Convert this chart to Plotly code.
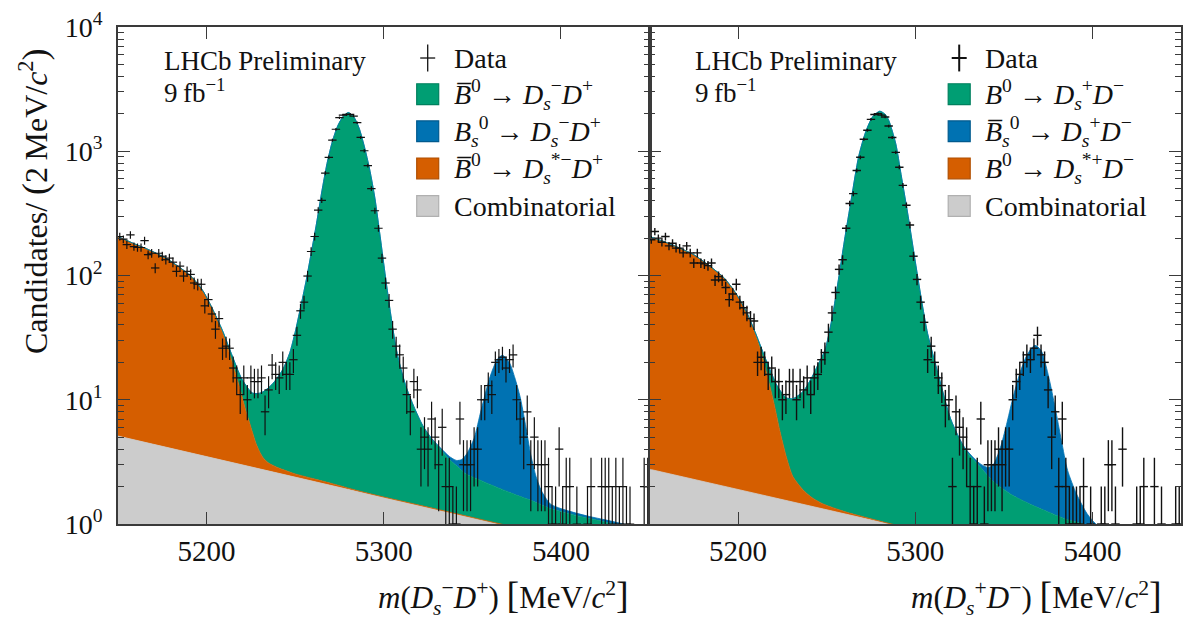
import numpy as np
import plotly.graph_objects as go

# ---------------- data ----------------
BIN_CENTERS = list(range(5151, 5450, 2))  # 2 MeV bins

LEFT_COUNTS = [
    206, 196, 177, 212, 171, 168, 168, 191, 147, 151,
    115, 151, 143, 134, 138, 128, 108, 119, 99, 108,
    102, 87, 85, 85, 57, 64, 49, 37, 45, 26,
    27, 26, 18, 15, 11, 15, 10, 15, 14, 14,
    15, 8, 12, 19, 16, 15, 20, 16, 16, 21,
    33, 52, 61, 99, 156, 206, 336, 403, 667, 894,
    1228, 1503, 1863, 1953, 1978, 1978, 1918, 1698, 1291, 1009,
    766, 500, 332, 240, 138, 87, 63, 37, 27, 23,
    18, 11, 8, 14, 12, 4, 5, 4, 7, 5,
    3, 6, 2, 2, 1, 1, 7, 3, 3, 3,
    4, 4, 10, 10, 13, 11, 20, 21, 22, 18,
    21, 23, 10, 7, 5, 8, 3, 5, 3, 3,
    3, 2, 1, 1, 4, 1, 2, 2, 0, 1,
    0, 0, 1, 2, 0, 0, 2, 2, 2, 1,
    2, 1, 2, 1, 1, 0, 0, 0, 2, 2,
]
RIGHT_COUNTS = [
    194, 226, 200, 185, 206, 173, 182, 166, 166, 152,
    173, 152, 126, 152, 126, 124, 120, 126, 92, 98,
    92, 80, 64, 71, 85, 61, 55, 50, 45, 43,
    20, 22, 20, 16, 18, 14, 14, 10, 11, 14,
    14, 10, 14, 12, 15, 11, 15, 16, 21, 24,
    35, 50, 73, 112, 134, 240, 380, 456, 700, 894,
    1250, 1476, 1806, 1978, 2004, 1953, 1884, 1596, 1291, 980,
    744, 531, 368, 255, 143, 93, 61, 42, 21, 27,
    20, 15, 13, 9, 10, 2, 8, 6, 5, 4,
    2, 1, 2, 7, 1, 3, 3, 3, 4, 3,
    4, 4, 10, 14, 16, 20, 23, 21, 26, 33,
    23, 20, 12, 5, 8, 2, 7, 2, 1, 1,
    1, 1, 2, 0, 1, 0, 0, 1, 1, 3,
    3, 1, 0, 4, 0, 0, 0, 1, 1, 2,
    0, 0, 2, 0, 1, 0, 0, 0, 1, 1,
]
assert len(LEFT_COUNTS) == len(BIN_CENTERS) == len(RIGHT_COUNTS)

# --- fit components (stacked boundaries) ---
# left panel
L_GRAY_X = [5150, 5450]
L_GRAY_Y = [5.1, 0.52]
L_ORANGE_X = [5150, 5158, 5167, 5177, 5186, 5192, 5198, 5203, 5209, 5214, 5218, 5220, 5222,
              5224, 5226, 5228, 5230, 5232, 5235, 5240, 5245, 5250, 5260, 5270, 5285, 5300,
              5320, 5350, 5450]
L_ORANGE_Y = [206, 183, 162, 138, 113, 96, 75, 55, 35, 21, 13.5, 10.6, 8.3,
              6.7, 5.4, 4.4, 3.8, 3.4, 3.1, 2.85, 2.68, 2.53, 2.32, 2.13, 1.86, 1.65,
              1.42, 1.13, 0.53]
L_CORE_X = [5150, 5158, 5167, 5177, 5186, 5192, 5198, 5203, 5209, 5214, 5220, 5226, 5231, 5237,
            5243, 5247, 5250, 5253, 5256, 5259, 5262, 5265, 5268, 5271, 5274, 5277, 5280, 5283,
            5286, 5289, 5292, 5295, 5298, 5301, 5304, 5307, 5310, 5313, 5317, 5322]
L_CORE_Y = [206, 183, 162, 138, 113, 96, 75, 55, 36, 23.5, 14.6, 11.3, 11.4, 13.3,
            17.5, 24, 35, 55, 88, 150, 260, 470, 800, 1200, 1600, 1900, 2050, 1900,
            1550, 1100, 720, 420, 205, 97, 48, 26, 17, 12.3, 8.8, 6.2]
L_GREEN_TAIL_X = [5327, 5332, 5337, 5341, 5346, 5355, 5364, 5373, 5383, 5394, 5402, 5411,
                  5421, 5432, 5450]
L_GREEN_TAIL_Y = [4.8, 4.0, 3.3, 2.95, 2.55, 2.23, 1.97, 1.75, 1.55, 1.33, 1.24, 1.15,
                  1.07, 0.98, 0.86]
L_TOTAL_TAIL_X = [5327, 5332, 5337, 5341, 5344, 5347, 5351, 5355, 5360, 5364, 5367, 5371,
                  5374, 5377, 5380, 5383, 5386, 5389, 5394, 5400, 5408, 5416, 5425, 5434, 5450]
L_TOTAL_TAIL_Y = [4.9, 4.1, 3.5, 3.25, 3.3, 3.7, 4.9, 8.3, 15.3, 21, 22.8, 19.8,
                  15, 10.5, 6.3, 3.6, 2.4, 1.85, 1.45, 1.33, 1.23, 1.15, 1.08, 1.01, 0.9]

# right panel
R_GRAY_X = [5150, 5450]
R_GRAY_Y = [2.76, 0.29]
R_ORANGE_X = [5150, 5158, 5165, 5175, 5184, 5192, 5199, 5205, 5210, 5213, 5216, 5220, 5223.6,
              5227.4, 5231, 5237, 5242, 5248, 5260, 5270, 5283, 5300, 5450]
R_ORANGE_Y = [206, 188, 171, 147, 119, 96, 71, 50, 33, 24, 16.5, 9.7, 5.6,
              3.4, 2.4, 1.86, 1.62, 1.45, 1.26, 1.15, 1.03, 0.9, 0.29]
R_CORE_X = [5150, 5158, 5165, 5175, 5184, 5192, 5199, 5205, 5210, 5216, 5222, 5227, 5231, 5237,
            5242, 5245, 5249, 5253, 5257, 5260, 5264, 5268, 5272, 5276, 5280, 5283, 5285,
            5289, 5292, 5296, 5300, 5304, 5307, 5313, 5320]
R_CORE_Y = [206, 188, 171, 147, 119, 96, 71, 50, 34, 20.5, 13, 10.4, 10.2, 11.8,
            15.5, 19, 25, 45, 100, 190, 420, 900, 1430, 1900, 2100, 1980, 1780,
            1150, 650, 300, 130, 58, 34, 16, 7]
R_GREEN_TAIL_X = [5328, 5336, 5344, 5355, 5366, 5378, 5387, 5395, 5410, 5450]
R_GREEN_TAIL_Y = [4.0, 2.95, 2.2, 1.7, 1.42, 1.2, 1.07, 1.0, 0.85, 0.6]
R_TOTAL_TAIL_X = [5328, 5336, 5341, 5344, 5348, 5351.5, 5355, 5359, 5363, 5367.5, 5371, 5375,
                  5379, 5382.5, 5386, 5391, 5397, 5402, 5410, 5450]
R_TOTAL_TAIL_Y = [4.1, 3.1, 2.85, 3.0, 4.1, 6.3, 10.2, 16.3, 22.8, 27.4, 25, 16,
                  8.6, 4.7, 2.7, 1.75, 1.21, 1.0, 0.86, 0.6]

LEFT_LABELS = [
    "Data",
    "<i>B\u0305</i><sup>0</sup> \u2192 <i>D</i><sub><i>s</i></sub><sup>\u2212</sup><i>D</i><sup>+</sup>",
    "<i>B</i><sub><i>s</i></sub><sup>0</sup> \u2192 <i>D</i><sub><i>s</i></sub><sup>\u2212</sup><i>D</i><sup>+</sup>",
    "<i>B\u0305</i><sup>0</sup> \u2192 <i>D</i><sub><i>s</i></sub><sup>*\u2212</sup><i>D</i><sup>+</sup>",
    "Combinatorial",
]
RIGHT_LABELS = [
    "Data",
    "<i>B</i><sup>0</sup> \u2192 <i>D</i><sub><i>s</i></sub><sup>+</sup><i>D</i><sup>\u2212</sup>",
    "<i>B\u0305</i><sub><i>s</i></sub><sup>0</sup> \u2192 <i>D</i><sub><i>s</i></sub><sup>+</sup><i>D</i><sup>\u2212</sup>",
    "<i>B</i><sup>0</sup> \u2192 <i>D</i><sub><i>s</i></sub><sup>*+</sup><i>D</i><sup>\u2212</sup>",
    "Combinatorial",
]
BIG = "<span style='font-size:38px'>{}</span>"
LEFT_XTITLE = ("<i>m</i>(<i>D</i><sub><i>s</i></sub><sup>\u2212</sup><i>D</i><sup>+</sup>) "
               + BIG.format("[") + "MeV/<i>c</i><sup>2</sup>" + BIG.format("]"))
RIGHT_XTITLE = ("<i>m</i>(<i>D</i><sub><i>s</i></sub><sup>+</sup><i>D</i><sup>\u2212</sup>) "
                + BIG.format("[") + "MeV/<i>c</i><sup>2</sup>" + BIG.format("]"))
YTITLE = ("Candidates/ " + "<span style='font-size:36px'>(</span>" + "2\u2009MeV/<i>c</i><sup>2</sup>"
          + "<span style='font-size:36px'>)</span>")

XTICKS = [5200, 5300, 5400]
YTICKS = [1, 10, 100, 1000, 10000]
YTICKTEXT = ["10<sup>0</sup>", "10<sup>1</sup>", "10<sup>2</sup>", "10<sup>3</sup>", "10<sup>4</sup>"]

# ---------------- styles ----------------
FONT = "Liberation Serif"
GREEN, BLUE, ORANGE, GRAY = "#009E73", "#0072B2", "#D55E00", "#CCCCCC"
GREEN_E, BLUE_E, ORANGE_E, GRAY_E = "#00805e", "#005a8e", "#b04e00", "#b0b0b0"
AXC = "#3a3a3a"

fig = go.Figure()


def add_panel(xa, ya, gray, orange, green, total, counts, cross_w):
    # baseline below visible range for the bottom fill
    fig.add_trace(go.Scatter(x=[5150, 5450], y=[0.01, 0.01], mode="lines",
                             line=dict(width=0, color=GRAY), xaxis=xa, yaxis=ya,
                             showlegend=False, hoverinfo="skip"))
    for (xs, ys), col in zip([gray, orange, green, total], [GRAY, ORANGE, GREEN, BLUE]):
        fig.add_trace(go.Scatter(x=xs, y=ys, mode="lines", fill="tonexty", fillcolor=col,
                                 line=dict(width=0.8, color=col, shape="spline", smoothing=0.7),
                                 xaxis=xa, yaxis=ya, showlegend=False, hoverinfo="skip"))
    xs = [b for b, n in zip(BIN_CENTERS, counts) if n > 0]
    ys = [n for n in counts if n > 0]
    err = list(np.sqrt(ys))
    fig.add_trace(go.Scatter(x=xs, y=ys, mode="markers",
                             marker=dict(symbol="line-ew", size=6, color="#111",
                                         line=dict(width=cross_w, color="#111")),
                             error_y=dict(type="data", array=err, width=0,
                                          thickness=cross_w, color="#111"),
                             xaxis=xa, yaxis=ya, showlegend=False))


add_panel("x", "y", (L_GRAY_X, L_GRAY_Y), (L_ORANGE_X, L_ORANGE_Y),
          (L_CORE_X + L_GREEN_TAIL_X, L_CORE_Y + L_GREEN_TAIL_Y),
          (L_CORE_X + L_TOTAL_TAIL_X, L_CORE_Y + L_TOTAL_TAIL_Y), LEFT_COUNTS, 1.2)
add_panel("x2", "y2", (R_GRAY_X, R_GRAY_Y), (R_ORANGE_X, R_ORANGE_Y),
          (R_CORE_X + R_GREEN_TAIL_X, R_CORE_Y + R_GREEN_TAIL_Y),
          (R_CORE_X + R_TOTAL_TAIL_X, R_CORE_Y + R_TOTAL_TAIL_Y), RIGHT_COUNTS, 1.4)

# ---------------- manual legends & labels ----------------
shapes, annotations = [], []
ROW_Y = [0.9376, 0.8649, 0.7902, 0.7155, 0.6398]
SWATCH = [(GREEN, GREEN_E), (BLUE, BLUE_E), (ORANGE, ORANGE_E), (GRAY, GRAY_E)]
for xd, labels, xtitle, cw, xt in [("x domain", LEFT_LABELS, LEFT_XTITLE, 1.3, 0.966),
                                   ("x2 domain", RIGHT_LABELS, RIGHT_XTITLE, 2.0, 0.968)]:
    # data cross
    shapes.append(dict(type="line", xref=xd, yref="y domain", x0=0.5827, x1=0.5827,
                       y0=ROW_Y[0] - 0.027, y1=ROW_Y[0] + 0.027, line=dict(color="#111", width=cw)))
    shapes.append(dict(type="line", xref=xd, yref="y domain", x0=0.5686, x1=0.5968,
                       y0=ROW_Y[0], y1=ROW_Y[0], line=dict(color="#111", width=cw)))
    for (fc, ec), ry in zip(SWATCH, ROW_Y[1:]):
        shapes.append(dict(type="rect", xref=xd, yref="y domain", x0=0.5620, x1=0.6034,
                           y0=ry - 0.0209, y1=ry + 0.0209, fillcolor=fc,
                           line=dict(color=ec, width=1.2)))
    for lab, ry in zip(labels, ROW_Y):
        annotations.append(dict(text=lab, xref=xd, yref="y domain", x=0.6278, y=ry,
                                xanchor="left", yanchor="middle", showarrow=False,
                                font=dict(family=FONT, size=28, color="#111")))
    annotations.append(dict(text="LHCb Preliminary", xref=xd, yref="y domain", x=0.082, y=0.932,
                            xanchor="left", yanchor="middle", showarrow=False,
                            font=dict(family=FONT, size=27, color="#111")))
    annotations.append(dict(text="9\u2009fb<sup>\u22121</sup>", xref=xd, yref="y domain",
                            x=0.082, y=0.872, xanchor="left", yanchor="middle", showarrow=False,
                            font=dict(family=FONT, size=27, color="#111")))
    annotations.append(dict(text=xtitle, xref=xd, yref="y domain", x=xt, y=-0.146,
                            xanchor="right", yanchor="middle", showarrow=False,
                            font=dict(family=FONT, size=31, color="#111")))

annotations.append(dict(text=YTITLE, xref="x domain", yref="y domain", x=-0.158, y=0.65,
                        xanchor="center", yanchor="middle", textangle=-90, showarrow=False,
                        font=dict(family=FONT, size=32, color="#111")))

MINOR = [m * 10 ** k for k in range(4) for m in range(2, 10)]
xcommon = dict(range=[5150, 5450], tickvals=XTICKS, ticks="inside", ticklen=12, tickwidth=1.2,
               tickcolor=AXC, mirror="ticks", showline=True, linecolor=AXC, linewidth=1.6,
               showgrid=False, zeroline=False,
               tickfont=dict(family=FONT, size=29, color="#111"))
ycommon = dict(type="log", range=[0, 4], tickvals=YTICKS, ticktext=YTICKTEXT, ticks="inside",
               ticklen=12, tickwidth=1.2, tickcolor=AXC, mirror="ticks", showline=True,
               linecolor=AXC, linewidth=1.6, showgrid=False, zeroline=False,
               minor=dict(tickvals=MINOR, ticks="inside", ticklen=6, tickwidth=1.0,
                          tickcolor=AXC, showgrid=False),
               tickfont=dict(family=FONT, size=28, color="#111"))

fig.update_layout(
    width=1191, height=623,
    margin=dict(l=118, r=8, t=22, b=99),
    paper_bgcolor="white", plot_bgcolor="white",
    showlegend=False,
    xaxis=dict(domain=[0, 0.5], anchor="y", **xcommon),
    xaxis2=dict(domain=[0.5, 1], anchor="y2", **xcommon),
    yaxis=dict(domain=[0, 1], anchor="x", ticklabelstandoff=8, **ycommon),
    yaxis2=dict(domain=[0, 1], anchor="x2", matches="y", showticklabels=False, **ycommon),
    shapes=shapes, annotations=annotations,
    font=dict(family=FONT, color="#111"),
)

fig.write_html("out.html")
